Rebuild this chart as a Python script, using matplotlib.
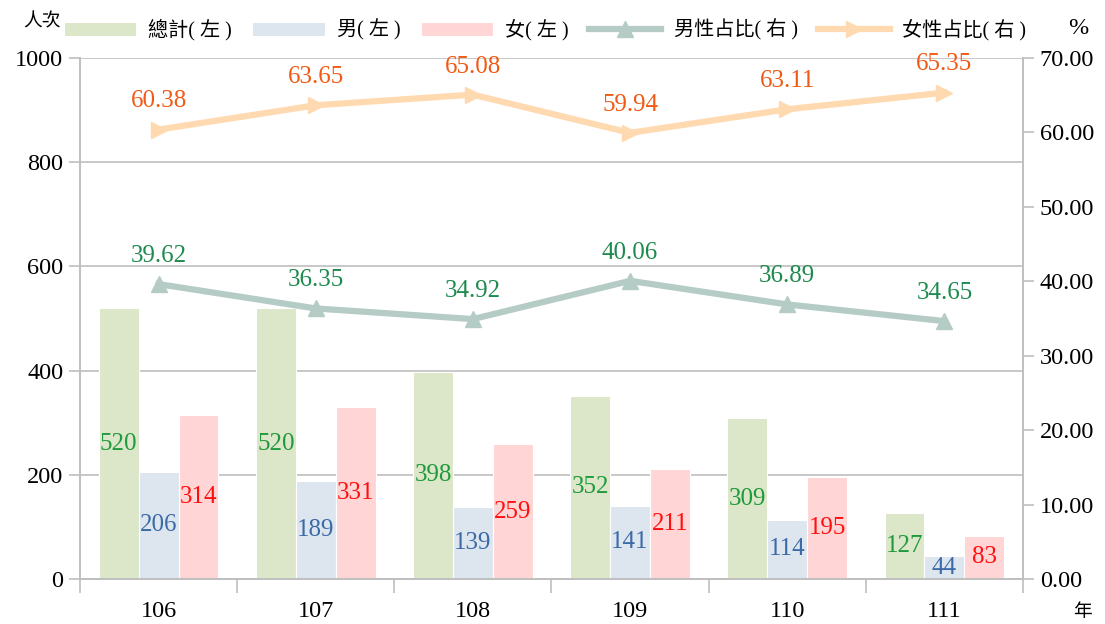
import numpy as np
import matplotlib.pyplot as plt

plt.rcParams['font.family'] = ['Liberation Serif', 'Noto Sans CJK TC']

# data
years = ['106', '107', '108', '109', '110', '111']
total = [520, 520, 398, 352, 309, 127]
male = [206, 189, 139, 141, 114, 44]
female = [314, 331, 259, 211, 195, 83]
male_pct = [39.62, 36.35, 34.92, 40.06, 36.89, 34.65]
female_pct = [60.38, 63.65, 65.08, 59.94, 63.11, 65.35]

c_total, c_male, c_female = '#dce6c8', '#dde5ef', '#ffd5d5'
grid_c = '#bfbfbf'
fs = 17.5

fig = plt.figure(figsize=(11.05, 6.24), dpi=100)
ax = fig.add_axes([80 / 1105, 45 / 624, 943 / 1105, 521 / 624])
ax2 = ax.twinx()

x = np.arange(len(years))
w = 0.254
b1 = ax.bar(x - w, total, w, color=c_total, edgecolor='white', linewidth=0.8, label='總計( 左 )')
b2 = ax.bar(x, male, w, color=c_male, edgecolor='white', linewidth=0.8, label='男( 左 )')
b3 = ax.bar(x + w, female, w, color=c_female, edgecolor='white', linewidth=0.8, label='女( 左 )')

for bars, vals, col in [(b1, total, '#1f9a3c'), (b2, male, '#3b6aa8'), (b3, female, '#ff1010')]:
    for r, v in zip(bars, vals):
        ax.text(r.get_x() + r.get_width() / 2, v / 2, str(v), ha='center', va='center',
                fontsize=18, color=col)

ax.set_xlim(-0.5, len(years) - 0.5)
ax.set_ylim(0, 1000)
ax.set_yticks(range(0, 1001, 200))
ax.grid(axis='y', color=grid_c, linewidth=1.2)
ax.set_axisbelow(True)
ax.set_xticks(x)
ax.set_xticklabels(years)
ax.set_xticks(np.arange(-0.5, len(years), 1), minor=True)
ax.tick_params(axis='x', which='major', length=0, pad=16, labelsize=fs)
ax.tick_params(axis='x', which='minor', length=10, color=grid_c, width=1.2)
ax.tick_params(axis='y', length=8, color=grid_c, width=1.2, labelsize=fs, pad=4)

ln1, = ax2.plot(x, male_pct, color='#b5cbc6', linewidth=4.5, marker='^', markersize=11,
                label='男性占比( 右 )')
ln2, = ax2.plot(x, female_pct, color='#ffd9b0', linewidth=4.5, marker='>', markersize=11,
                label='女性占比( 右 )')
for xi, v in zip(x, male_pct):
    ax2.text(xi, v + 2.3, f'{v:.2f}', ha='center', va='bottom', fontsize=18, color='#1e8a4e')
for xi, v in zip(x, female_pct):
    ax2.text(xi, v + 2.3, f'{v:.2f}', ha='center', va='bottom', fontsize=18, color='#f05a14')
ax2.set_ylim(0, 70)
ax2.set_yticks(range(0, 71, 10))
ax2.set_yticklabels([f'{t:.2f}' for t in range(0, 71, 10)])
ax2.tick_params(axis='y', length=8, color=grid_c, width=1.2, labelsize=fs, pad=4)

for a in (ax, ax2):
    for s in a.spines.values():
        s.set_color(grid_c)
        s.set_linewidth(1.2)
    a.spines['top'].set_visible(False)

fig.text(42 / 1105, 1 - 22 / 624, '人次', ha='center', va='center', fontsize=13.5)
fig.text(1078 / 1105, 1 - 28 / 624, '%', ha='center', va='center', fontsize=fs)
fig.text(1082 / 1105, 1 - 612 / 624, '年', ha='center', va='center', fontsize=13.5)

fig.legend(handles=[b1, b2, b3, ln1, ln2], loc='center', bbox_to_anchor=(545 / 1105, 1 - 30 / 624),
           ncol=5, frameon=False, fontsize=14.5, handlelength=3.6, handletextpad=0.6,
           columnspacing=1.0)

fig.savefig('out.png', dpi=100)
